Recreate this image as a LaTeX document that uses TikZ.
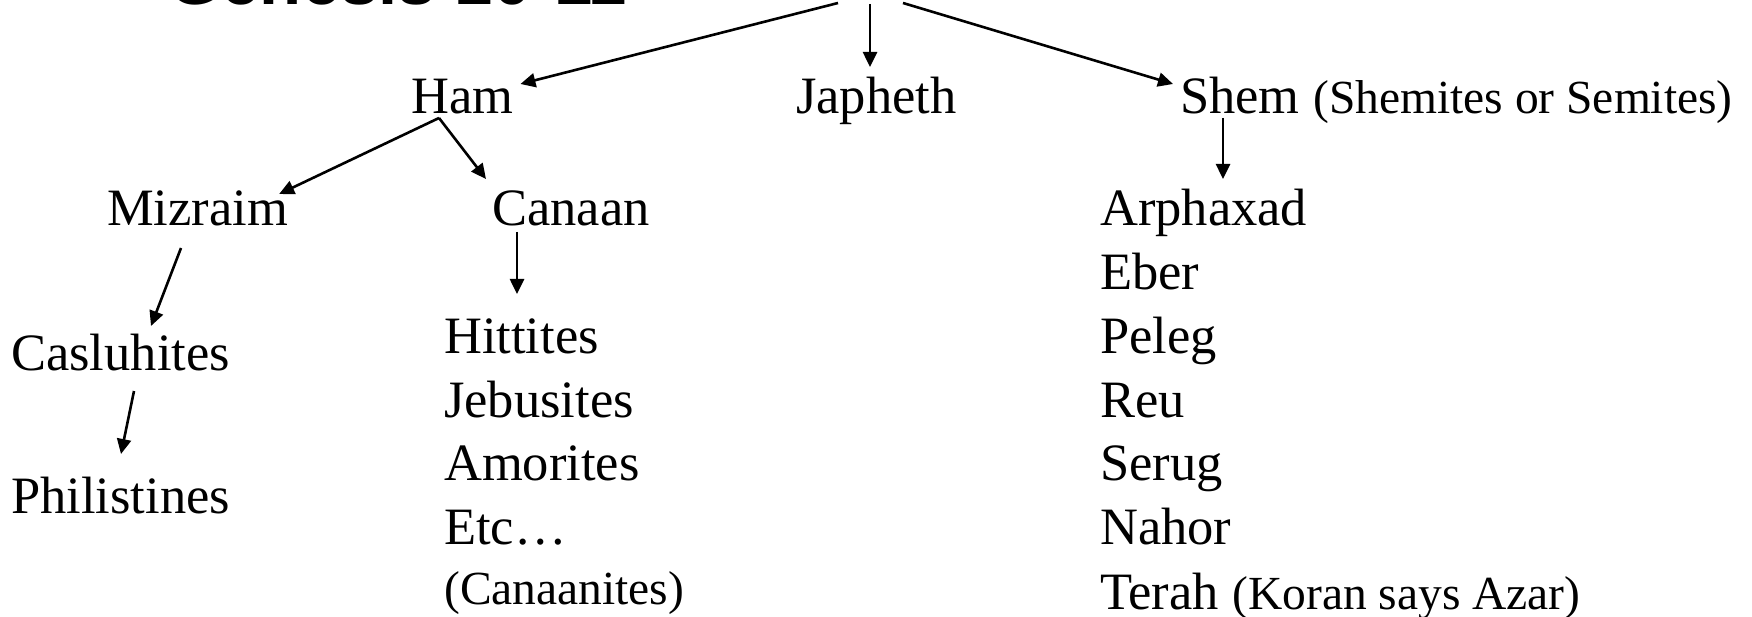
\documentclass[tikz,border=0pt]{standalone}
\usepackage{fontspec}
\setmainfont{Liberation Serif}
\newfontfamily\titlefont{Liberation Sans}
\usetikzlibrary{arrows.meta,calc}
\begin{document}
\begin{tikzpicture}[x=1pt,y=-1pt,
  big/.style={inner sep=0pt,anchor=base west,font=\fontsize{52.5}{63}\selectfont},
  small/.style={inner sep=0pt,anchor=base west,font=\fontsize{47.5}{57}\selectfont},
  arr/.style={line width=2.6pt,-{Triangle[length=15pt,width=14pt]}}]
\useasboundingbox (0,0) rectangle (1752,617);
\clip (0,0) rectangle (1752,617);
\fill[white] (0,0) rectangle (1752,617);
\node[inner sep=0pt,anchor=base west,font=\titlefont\bfseries\fontsize{68.8}{80}\selectfont] (title) at (168,5) {Genesis 10-11};
% generation 1
\node[big] (ham) at (411,114) {Ham};
\node[big] (japheth) at (796,114) {Japheth};
\node[big] (shem) at (1180,114) {Shem};
\node[small] (shemnote) at ($(shem.base east)+(13,0)$) {(Shemites or Semites)};
% generation 2
\node[big] (mizraim) at (107,226) {Mizraim};
\node[big] (canaan) at (492,226) {Canaan};
\node[big] (arphaxad) at (1100,226) {Arphaxad};
\node[big] (eber) at (1100,290) {Eber};
\node[big] (peleg) at (1100,353) {Peleg};
\node[big] (reu) at (1100,417) {Reu};
\node[big] (serug) at (1100,480) {Serug};
\node[big] (nahor) at (1100,544) {Nahor};
\node[big] (terah) at (1100,609) {Terah};
\node[small] (terahnote) at ($(terah.base east)+(13,0)$) {(Koran says Azar)};
% Canaan list
\node[big] (hittites) at (444,353) {Hittites};
\node[big] (jebusites) at (444,417) {Jebusites};
\node[big] (amorites) at (444,480) {Amorites};
\node[big] (etc) at (444,544) {Etc…};
\node[small] (canaanites) at (444,604) {(Canaanites)};
% Mizraim line
\node[big] (casluhites) at (11,370) {Casluhites};
\node[big] (philistines) at (11,513) {Philistines};
% connectors
\coordinate (noahL) at (838,3);
\coordinate (noahM) at (870,4);
\coordinate (noahR) at (903,3);
\draw[arr] (noahL) -- ($(ham.base east)+(7,-30)$);
\draw[arr] (noahM) -- ($(japheth.base west)+(74,-47)$);
\draw[arr] (noahR) -- ($(shem.base west)+(-7,-30)$);
\draw[arr] ($(ham.base west)+(28,4)$) -- ($(mizraim.base east)+(-9,-32)$);
\draw[arr] ($(ham.base west)+(28,4)$) -- ($(canaan.base west)+(-6,-47)$);
\draw[arr] ($(shem.base west)+(43,4)$) -- ($(arphaxad.base west)+(123,-47)$);
\draw[arr] ($(mizraim.base west)+(74,22)$) -- ($(casluhites.base west)+(140,-44)$);
\draw[arr] ($(canaan.base west)+(25,6)$) -- ($(hittites.base west)+(73,-59)$);
\draw[arr] ($(casluhites.base west)+(123,21)$) -- ($(philistines.base west)+(110,-59)$);
\end{tikzpicture}
\end{document}
